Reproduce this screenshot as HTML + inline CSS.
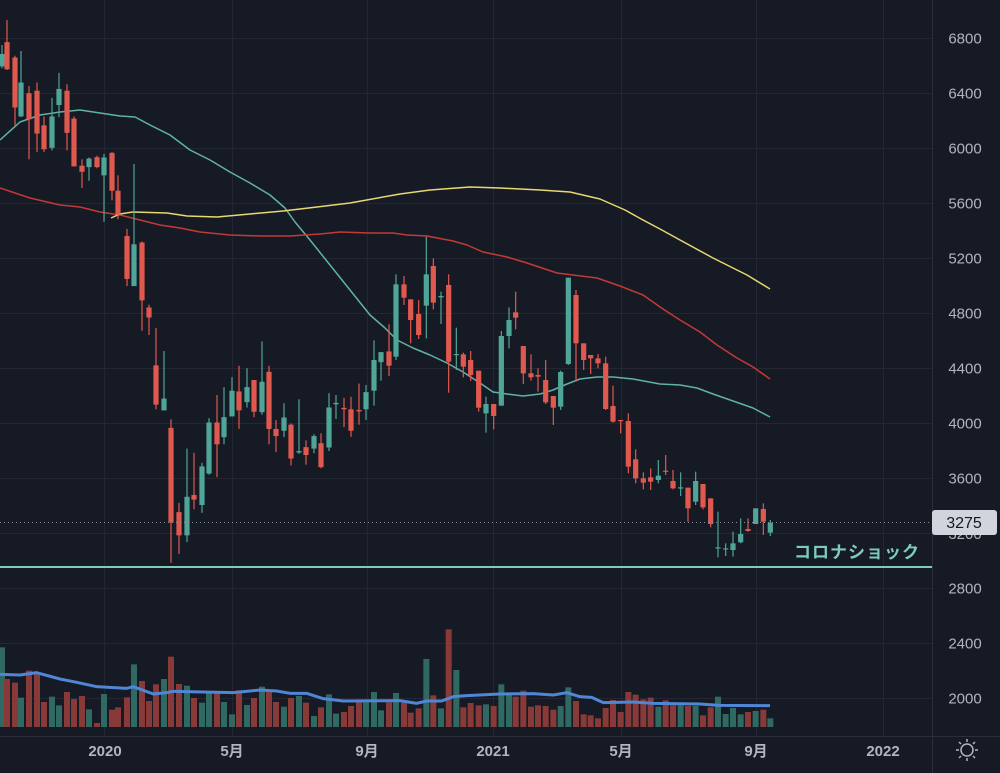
<!DOCTYPE html>
<html><head><meta charset="utf-8"><style>
html,body{margin:0;padding:0;background:#161a25;}
svg{display:block}
text{font-family:"Liberation Sans","Noto Sans CJK JP",sans-serif;}
</style></head><body>
<svg id="c" width="1000" height="773" xmlns="http://www.w3.org/2000/svg">
<rect width="1000" height="773" fill="#161a25"/>
<g id="grid" stroke="#242733" stroke-width="1"></g>
<g id="vol"></g>
<g id="ma"></g>
<g id="cd"></g>
<line x1="0" y1="522.5" x2="932" y2="522.5" stroke="#8a8e99" stroke-width="1" stroke-dasharray="1,3"/>
<line x1="0" y1="567" x2="932" y2="567" stroke="#7ecbbd" stroke-width="2"/>
<text x="920" y="558" text-anchor="end" font-size="17" font-weight="bold" fill="#7ecbbd" letter-spacing="1">コロナショック</text>
<line x1="932.5" y1="0" x2="932.5" y2="773" stroke="#2a2e39"/>
<line x1="0" y1="736.5" x2="1000" y2="736.5" stroke="#2a2e39"/>
<g id="ax" fill="#b2b5be" font-size="15"></g>
<text x="965" y="539" text-anchor="middle" font-size="15" fill="#b2b5be">3200</text>
<rect x="932" y="510" width="65" height="25" rx="3" fill="#d1d4dc"/>
<text x="964" y="528" text-anchor="middle" font-size="16" fill="#131722">3275</text>
<g stroke="#b2b5be" stroke-width="1.5" fill="none"><circle cx="967" cy="750" r="6"/>
<path d="M967 739v3M967 758v3M956 750h3M975 750h3M959 742l2 2M973 756l2 2M959 758l2-2M973 744l2-2"/></g>
</svg>
<script>
const NS="http://www.w3.org/2000/svg";
function el(p,t,a){const e=document.createElementNS(NS,t);for(const k in a)e.setAttribute(k,a[k]);document.getElementById(p).appendChild(e);return e;}
[6800,6400,6000,5600,5200,4800,4400,4000,3600,3200,2800,2400,2000].forEach(p=>{
 const y=Math.round(533-(p-3200)*0.1375)+0.5;
 el('grid','line',{x1:0,x2:932,y1:y,y2:y});
 if(p!=3200){const t=el('ax','text',{x:965,y:y+5,'text-anchor':'middle'});t.textContent=p;}
});
[104,232,367,493,621,756,883].forEach(x=>el('grid','line',{x1:x+.5,x2:x+.5,y1:0,y2:736}));
[[105,'2020'],[232,'5月'],[367,'9月'],[493,'2021'],[621,'5月'],[756,'9月'],[883,'2022']].forEach(([x,s])=>{
 const t=el('ax','text',{x:x,y:756,'text-anchor':'middle','font-weight':'bold'});t.textContent=s;});
const f1=z=>z/2.8+20, f2=z=>z/3+220;
const A=[[2,95,130,70,135,1],[7,62,138,0,140,0],[15,105,245,100,295,0],[21,175,270,87,272,1],[29,205,278,185,390,0],[37,198,318,175,370,0],[44,295,362,270,370,0],[52,270,358,218,365,1],[59,193,238,148,272,1],[67,198,316,180,365,0],[74,276,410,270,410,0],[82,408,425,390,470,0],[89,388,412,385,450,1],[97,384,412,380,415,0],[104,385,435,375,565,1],[112,372,478,370,505,0],[118,478,545,435,558,0],[127,605,725,585,745,0],[134,628,745,403,745,1],[142,623,785,620,870,0],[149,805,833,797,882,0],[156,967,1077,862,1090,0],[164,1060,1093,927,1093,1],[171,1142,1407,1118,1520,0],[179,1378,1443,1352,1495,0],[187,1335,1443,1200,1462,1],[194,1330,1343,1212,1370,0],[202,1250,1358,1240,1380,1],[209,1127,1270,1115,1273,1],[217,1127,1188,1050,1280,0],[224,1112,1168,1028,1188,1],[232,1038,1110,1000,1110,1],[239,1040,1093,968,1145,0],[247,1028,1070,975,1085,1],[254,1008,1097,1008,1112,0],[262,1013,1098,900,1105,1],[269,985,1145,968,1188,0],[276,1145,1165,1120,1210,0],[284,1113,1150,1073,1168,1],[291,1133,1228,1130,1247,0],[299,1207,1211,1062,1215,1],[306,1196,1218,1177,1245,0],[314,1165,1200,1160,1213,1],[321,1185,1252,1157,1255,0],[329,1085,1197,1045,1207,1],[336,1072,1076,1050,1117,1],[344,1086,1090,1058,1140,0],[351,1090,1150,1055,1167,0],[359,1092,1096,1018,1133,0],[366,1042,1090,1022,1120,1],[374,952,1038,897,1080,1],[381,930,958,930,1010,1],[389,928,968,852,997,0]];
const B=[[48,193,410,163,420,1],[72,193,233,168,255,0],[92,238,300,238,370,0],[116,282,345,240,357,0],[139,163,257,50,355,1],[160,138,248,115,268,0],[183,228,232,215,312,1],[206,195,425,163,518,0],[229,402,405,323,450,1],[250,403,440,398,472,0],[272,420,465,393,483,0],[296,452,563,452,575,0],[318,552,580,530,638,1],[341,552,588,552,628,0],[364,348,557,333,557,1],[387,300,348,262,385,1],[407,277,293,215,328,0],[430,378,460,378,492,0],[453,460,472,403,482,0],[474,465,470,445,515,0],[497,480,547,420,552,0],[520,528,563,528,615,0],[542,456,560,452,570,1],[565,173,432,173,435,1],[588,225,370,210,485,0],[611,370,420,370,450,0],[632,405,415,405,462,0],[654,415,430,402,445,0],[677,430,567,410,570,0],[699,558,605,497,608,0],[722,600,603,600,640,0],[745,603,740,580,760,0],[767,718,775,688,790,0],[790,775,788,757,808,0],[812,772,785,745,810,0],[835,767,780,720,790,1],[857,752,755,705,765,0],[879,783,805,750,808,0],[902,802,805,757,828,1],[924,803,865,803,905,0],[947,783,845,755,855,1],[969,792,862,792,868,0],[992,835,912,835,922,0],[1014,982,985,875,1012,1],[1037,985,988,970,1008,1],[1059,970,990,935,1010,1],[1082,942,967,895,970,1],[1104,927,933,895,935,0],[1127,865,912,865,912,1],[1150,867,905,850,945,0],[1171,908,938,900,948,1]];
const C=[];
A.forEach(a=>C.push([a[0],f1(a[1]),f1(a[2]),f1(a[3]),f1(a[4]),a[5]]));
B.forEach(b=>C.push([380+b[0]/3,f2(b[1]),f2(b[2]),f2(b[3]),f2(b[4]),b[5]]));
const V1=[82,177,188,233,152,160,246,230,256,216,237,228,268,309,222,269,262,232,133,183,243,193,177,110,192,197,234,248,220,220,246,283,211,255,234,200,212,246,260,234,228,248,288,262,223,281,276,258,244,247,216,271,247,219];
const V2=[248,278,265,117,226,265,28,150,262,249,256,253,258,193,223,230,212,260,256,258,269,258,202,243,283,286,295,264,240,276,216,224,238,233,260,241,256,256,258,258,286,262,230,282,264,283,276,273,269,295];
const V=V1.concat(V2);
C.forEach((c,i)=>{
 const top=V[i]/3+620;
 el('vol','rect',{x:c[0]-3,y:top,width:6,height:727-top,fill:c[5]?'#2f6961':'#873a38'});
});
C.forEach(c=>{
 const col=c[5]?'#4fa597':'#e0594f';
 el('cd','line',{x1:c[0],x2:c[0],y1:c[3],y2:c[4],stroke:col,'stroke-width':1.2});
 const h=Math.max(1.2,c[2]-c[1]);
 el('cd','rect',{x:c[0]-2.6,y:c[1],width:5.2,height:h,fill:col});
});
function pl(pts,col,w){el('ma','polyline',{points:pts.map(p=>p.join(',')).join(' '),fill:'none',stroke:col,'stroke-width':w,'stroke-linejoin':'round'});}
pl([[0,140],[20,122],[40,115],[60,112],[80,110],[100,113],[120,116],[135,117],[150,125],[170,135],[190,150],[210,160],[230,172],[250,183],[270,195],[285,208],[295,222],[310,240],[330,265],[350,290],[370,315],[385,328],[397,340],[413,348],[430,355],[447,363],[463,372],[480,383],[493,392],[507,394],[523,396],[540,394],[553,390],[567,384],[580,379],[597,377],[613,377],[633,379],[660,384],[680,385],[697,388],[713,394],[733,401],[753,408],[770,417]],'#5fb3a5',1.5);
pl([[0,188],[30,198],[60,205],[80,207],[100,212],[120,215],[140,220],[160,225],[180,228],[200,232],[230,235],[260,236],[290,236],[320,234],[340,232],[370,233],[393,233],[407,235],[427,236],[453,241],[467,245],[483,252],[507,257],[527,263],[557,273],[573,275],[597,278],[620,286],[643,295],[663,309],[680,320],[700,332],[717,345],[737,358],[753,367],[770,379]],'#c23a36',1.5);
pl([[111,218],[120,214],[133,212],[167,213],[187,216],[217,217],[250,214],[283,211],[317,207],[350,203],[400,194],[430,190],[470,187],[500,188],[540,190],[570,192],[600,199],[625,210],[643,220],[660,229],[680,240],[713,258],[747,275],[770,289]],'#e8d870',1.5);
const vm=[[0,163],[60,165],[110,158],[180,177],[230,187],[290,200],[380,205],[400,200],[460,222],[500,218],[520,214],[700,218],[780,210],[830,213],[870,220],[920,220],[970,236],[1030,243],[1200,242]].map(p=>[p[0]/3,p[1]/3+620])
 .concat([[50,250],[80,243],[125,243],[160,230],[200,227],[300,222],[400,221],[460,225],[500,218],[540,230],[575,232],[610,248],[700,246],[760,250],[900,252],[960,256],[1110,257]].map(p=>[400+p[0]/3,p[1]/3+620]));
pl(vm,'#4f86d6',3);
</script>
</body></html>
